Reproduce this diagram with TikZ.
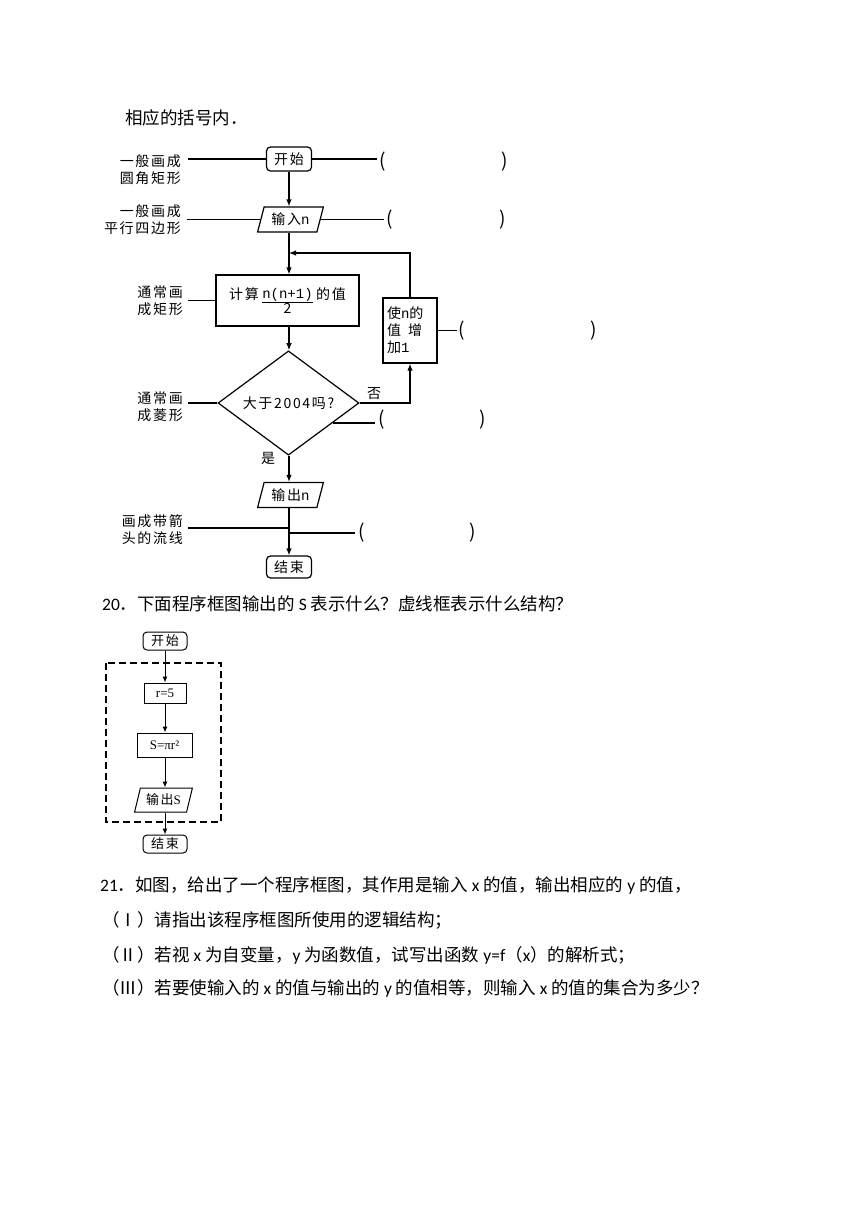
\documentclass[tikz,border=0pt]{standalone}
\usepackage{fontspec}
\setmainfont{Noto Sans CJK SC}
\newfontfamily\lat{Carlito}
\newfontfamily\fcf[LetterSpace=12]{Noto Sans CJK SC}
\newfontfamily\monof{Liberation Mono}
\newfontfamily\lsf{Liberation Serif}
\usetikzlibrary{shapes.geometric,arrows.meta,calc}
\begin{document}
\begin{tikzpicture}[x=1pt,y=-1pt,
  every node/.style={inner sep=0pt},
  body/.style={anchor=west,font=\fontsize{17.5}{20}\selectfont},
  fc/.style={font=\fcf\fontsize{14}{17}\selectfont},
  lab/.style={fc,align=right,anchor=east},
  paren/.style={font=\fontsize{19}{19}\selectfont},
  ln/.style={line width=1.2pt},
  arr/.style={ln,-{Latex[length=7pt,width=5.5pt]}},
  rbox/.style={fc,draw,ln,rounded corners=4pt,minimum width=45pt,minimum height=24pt},
  pgram/.style={fc,draw,ln,trapezium,trapezium left angle=70,trapezium right angle=110,trapezium stretches=true,minimum width=66pt,minimum height=25pt},
  pbox/.style={fc,draw,ln,minimum width=143pt,minimum height=51pt},
  dbox/.style={fc,draw,ln,diamond,minimum width=141pt,minimum height=68pt},
  ibox/.style={fc,draw,ln,align=left,text width=46pt,inner xsep=4pt,minimum height=65pt},
  fc2/.style={font=\fcf\fontsize{13}{15}\selectfont},
  ln2/.style={line width=1pt},
  arr2/.style={ln2,-{Latex[length=6pt,width=5pt]}},
  rbox2/.style={fc2,draw,ln2,rounded corners=4pt,minimum width=44pt,minimum height=18pt},
  box2/.style={fc2,draw,ln2,minimum height=20pt},
  pgram2/.style={fc2,draw,ln2,trapezium,trapezium left angle=70,trapezium right angle=110,trapezium stretches=true,minimum width=58pt,minimum height=24pt},
  dashbox/.style={line width=1.5pt,dash pattern=on 7pt off 4pt},
]
\fill[white] (0,0) rectangle (860,1216);
\useasboundingbox (0,0) rectangle (860,1216);

% ---------------- body text ----------------
\node[body] (t0) at (125,118) {相应的括号内．};
\node[body] (t20) at (102,604) {{\lat 20}．下面程序框图输出的 {\lat S} 表示什么？虚线框表示什么结构？};
\node[body] (t21) at (100,885) {{\lat 21}．如图，给出了一个程序框图，其作用是输入 {\lat x} 的值，输出相应的 {\lat y} 的值，};
\node[body] (t21a) at (102,920) {（Ⅰ）请指出该程序框图所使用的逻辑结构；};
\node[body] (t21b) at (102,955) {（Ⅱ）若视 {\lat x} 为自变量，{\lat y} 为函数值，试写出函数 {\lat y=f}（{\lat x}）的解析式；};
\node[body] (t21c) at (102,988) {（Ⅲ）若要使输入的 {\lat x} 的值与输出的 {\lat y} 的值相等，则输入 {\lat x} 的值的集合为多少？};

% ---------------- flowchart 1 ----------------
\begin{scope}
\clip (103,140) rectangle (600,582);
\node[rbox] (st) at (289,159) {开始};
\node[pgram] (in) at (290.5,219.5) {输入{\monof n}};
\node[pbox] (calc) at (287.5,300.5) {计算\,\raisebox{-6pt}{$\frac{\mbox{\monof n(n+1)}}{\mbox{2}}$}\,的值};
\node[dbox] (dec) at (288.5,403) {大于2004吗?};
\node[pgram] (out) at (290.5,495) {输出{\monof n}};
\node[rbox, minimum height=22pt] (end) at (289,567) {结束};
\node[ibox] (inc) at (410,330.5) {使{\monof n}的\\值\enspace 增\\加{\monof 1}};

\node[fc] (no) at (374,394) {否};
\node[fc] (yes) at (268,458) {是};

\coordinate (j1) at (289,253);
\coordinate (j5) at (289,533);

\draw[arr] (st.south) -- (st.south |- in.north);
\draw[arr] (st.south |- in.south) -- (st.south |- calc.north);
\draw[arr] (inc.north) |- (j1);
\draw[arr] (st.south |- calc.south) -- (st.south |- dec.north);
\draw[arr] (dec.east) -| (inc.south);
\draw[arr] (st.south |- dec.south) -- (st.south |- out.north);
\draw[arr] (st.south |- out.south) -- (st.south |- end.north);

% left labels
\node[lab] (l1) at (181,170) {一般画成\\圆角矩形};
\node[lab] (l2) at (181,220) {一般画成\\平行四边形};
\node[lab] (l3) at (183,301) {通常画\\成矩形};
\node[lab] (l4) at (183,407) {通常画\\成菱形};
\node[lab] (l5) at (183,530) {画成带箭\\头的流线};
\coordinate (a1) at (188,159);
\coordinate (a2) at (187,219.5);
\coordinate (a3) at (188,300.5);
\coordinate (a4) at (188,403);
\coordinate (a5) at (188,528);
\draw[ln] (a1) -- (st.west);
\draw[ln] (a2) -- (in.left side);
\draw[ln] (a3) -- (calc.west);
\draw[ln] (a4) -- (dec.west);
\draw[ln] (a5) -- (a5 -| st.south);

% right brackets
\node[paren] (p1l) at (383,162) {(};
\node[paren] (p1r) at (505,162) {)};
\node[paren] (p2l) at (390,220) {(};
\node[paren] (p2r) at (503,220) {)};
\node[paren] (p3l) at (462,331) {(};
\node[paren] (p3r) at (594,331) {)};
\node[paren] (p4l) at (382,420) {(};
\node[paren] (p4r) at (483,420) {)};
\node[paren] (p5l) at (362,533) {(};
\node[paren] (p5r) at (473,533) {)};
\coordinate (d4) at ($(dec.east)!0.38!(dec.south)$);
\draw[ln] (st.east) -- ([xshift=-3pt]st.east -| p1l.west);
\draw[ln] (in.right side) -- ([xshift=-3pt]in.right side -| p2l.west);
\draw[ln] (inc.east) -- ([xshift=-2pt]inc.east -| p3l.west);
\draw[ln] (d4) -- ([xshift=-4pt]d4 -| p4l.west);
\draw[ln] (j5) -- ([xshift=-4pt]j5 -| p5l.west);
\end{scope}

% ---------------- flowchart 2 ----------------
\node[rbox2] (s2) at (165,641) {开始};
\draw[dashbox] (106,663) rectangle (221,822);
\node[box2, minimum width=42pt] (r5) at (165,693) {\lsf r=5};
\node[box2, minimum width=55pt, minimum height=24pt] (sp) at (164.5,745) {\lsf S=πr²};
\node[pgram2] (o2) at (163.5,800) {输出{\lsf S}};
\node[rbox2] (e2) at (165,844) {结束};
\draw[arr2] (s2.south) -- (s2.south |- r5.north);
\draw[arr2] (s2.south |- r5.south) -- (s2.south |- sp.north);
\draw[arr2] (s2.south |- sp.south) -- (s2.south |- o2.north);
\draw[arr2] (s2.south |- o2.south) -- (e2.north);
\end{tikzpicture}
\end{document}
